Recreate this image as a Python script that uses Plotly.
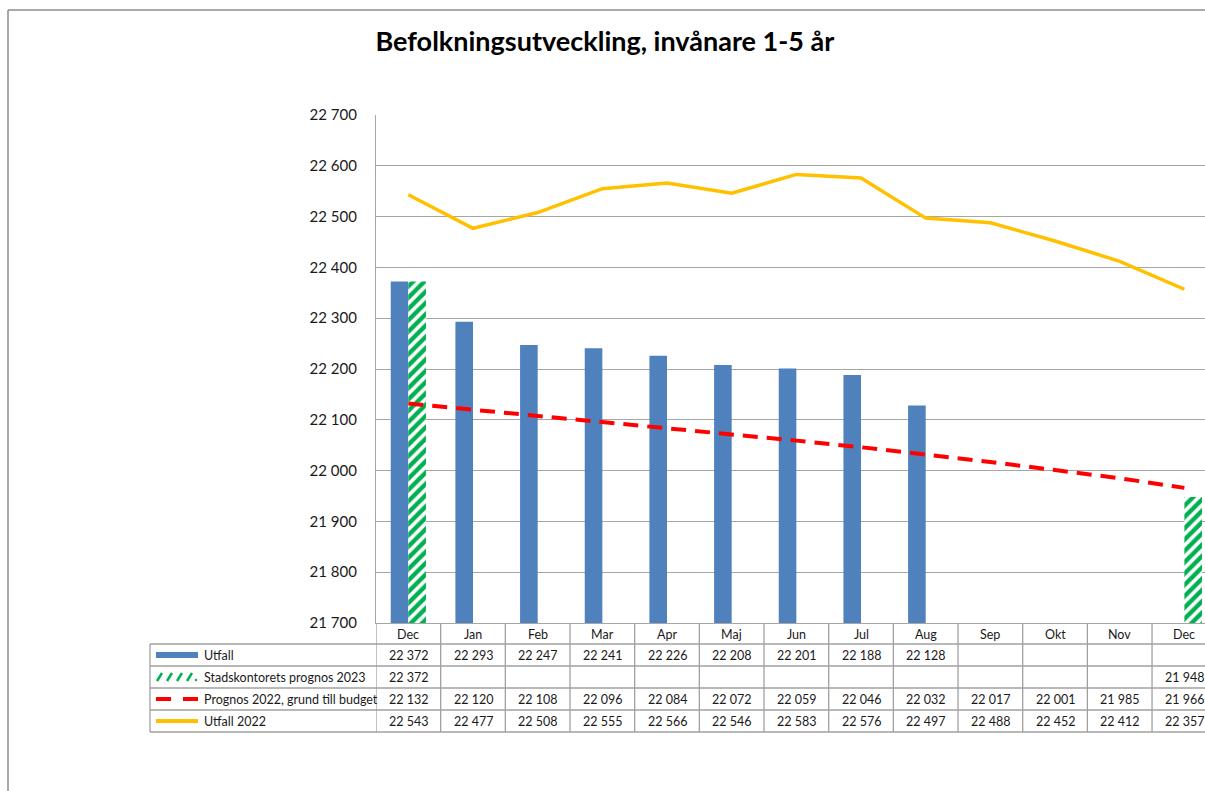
import plotly.graph_objects as go

categories = ["Dec", "Jan", "Feb", "Mar", "Apr", "Maj", "Jun", "Jul", "Aug", "Sep", "Okt", "Nov", "Dec"]
utfall = [22372, 22293, 22247, 22241, 22226, 22208, 22201, 22188, 22128, None, None, None, None]
stads_prognos_2023 = [22372, None, None, None, None, None, None, None, None, None, None, None, 21948]
prognos_2022 = [22132, 22120, 22108, 22096, 22084, 22072, 22059, 22046, 22032, 22017, 22001, 21985, 21966]
utfall_2022 = [22543, 22477, 22508, 22555, 22566, 22546, 22583, 22576, 22497, 22488, 22452, 22412, 22357]
series_names = ["Utfall", "Stadskontorets prognos 2023", "Prognos 2022, grund till budget", "Utfall 2022"]
y_ticks = [21700, 21800, 21900, 22000, 22100, 22200, 22300, 22400, 22500, 22600, 22700]

FONT = "Lato"
BLUE = "#4F81BD"
GREEN = "#00B050"
RED = "#FF0000"
YELLOW = "#FFC000"
GRID = "#A6A6A6"
TXT = "#1a1a1a"

W, H = 1205, 791
L, T, B = 376, 115, 168
PW = W - L
PH = H - T - B
AXIS_Y = T + PH  # 623


def px(X):
    return (X - L) / PW


def py(Y):
    return (AXIS_Y - Y) / PH


def fmt(v):
    return "" if v is None else f"{v:,}".replace(",", " ")


x = list(range(len(categories)))

fig = go.Figure()
fig.add_trace(go.Bar(x=x, y=utfall, name=series_names[0], marker=dict(color=BLUE, line=dict(width=0))))
fig.add_trace(go.Bar(x=x, y=stads_prognos_2023, name=series_names[1],
                     marker=dict(color="white", line=dict(width=0),
                                 pattern=dict(shape="/", fgcolor=GREEN, fgopacity=1, bgcolor="white",
                                              size=8, solidity=0.55))))
fig.add_trace(go.Scatter(x=x, y=prognos_2022, name=series_names[2], mode="lines",
                         line=dict(color=RED, width=4, dash="15px,9px")))
fig.add_trace(go.Scatter(x=x, y=utfall_2022, name=series_names[3], mode="lines",
                         line=dict(color=YELLOW, width=3.5)))

shapes = []
ann = []
line_style = dict(color="#A0A0A0", width=1.3)

# table horizontal lines
row_lines = [644, 666, 688, 710, 732]
for Y in row_lines:
    shapes.append(dict(type="line", xref="paper", yref="paper", x0=px(150), x1=1.0, y0=py(Y), y1=py(Y), line=line_style))
# left edge of legend column
shapes.append(dict(type="line", xref="paper", yref="paper", x0=px(150), x1=px(150), y0=py(644), y1=py(732), line=line_style))
# column separators
for k in range(len(categories)):
    shapes.append(dict(type="line", xref="x", yref="paper", x0=k - 0.5, x1=k - 0.5, y0=0, y1=py(732), line=line_style))

# outer chart border
shapes.append(dict(type="line", xref="paper", yref="paper", x0=px(8), x1=px(1300), y0=py(10), y1=py(10),
                   line=dict(color="#8C8C8C", width=1.5)))
shapes.append(dict(type="line", xref="paper", yref="paper", x0=px(8), x1=px(8), y0=py(10), y1=py(900),
                   line=dict(color="#8C8C8C", width=1.5)))

# legend keys
shapes.append(dict(type="rect", xref="paper", yref="paper", x0=px(156), x1=px(198), y0=py(652), y1=py(658),
                   fillcolor=BLUE, line=dict(width=0)))
for sx in [157, 167, 177, 187]:
    shapes.append(dict(type="line", xref="paper", yref="paper", x0=px(sx), x1=px(sx + 5), y0=py(681), y1=py(673),
                       line=dict(color=GREEN, width=2.5)))
shapes.append(dict(type="line", xref="paper", yref="paper", x0=px(195), x1=px(197), y0=py(680.5), y1=py(679.5),
                   line=dict(color=GREEN, width=2)))
shapes.append(dict(type="line", xref="paper", yref="paper", x0=px(156), x1=px(171), y0=py(699), y1=py(699),
                   line=dict(color=RED, width=4)))
shapes.append(dict(type="line", xref="paper", yref="paper", x0=px(183), x1=px(198), y0=py(699), y1=py(699),
                   line=dict(color=RED, width=4)))
shapes.append(dict(type="line", xref="paper", yref="paper", x0=px(156), x1=px(198), y0=py(721), y1=py(721),
                   line=dict(color=YELLOW, width=4)))

tfont = dict(family=FONT, size=12.5, color=TXT)
# header
for i, c in enumerate(categories):
    ann.append(dict(x=i, y=py(634), xref="x", yref="paper", text=c, showarrow=False, font=tfont,
                    xanchor="center", yanchor="middle"))
row_centers = [655, 677, 699, 721]
series_vals = [utfall, stads_prognos_2023, prognos_2022, utfall_2022]
for name, vals, Yc in zip(series_names, series_vals, row_centers):
    ann.append(dict(x=px(202), y=py(Yc), xref="paper", yref="paper", text=name, showarrow=False, font=tfont,
                    xanchor="left", yanchor="middle"))
    for i, v in enumerate(vals):
        if v is None:
            continue
        ann.append(dict(x=i, y=py(Yc), xref="x", yref="paper", text=fmt(v), showarrow=False, font=tfont,
                        xanchor="center", yanchor="middle"))

fig.update_layout(
    width=W, height=H,
    margin=dict(l=L, r=0, t=T, b=B, pad=0),
    paper_bgcolor="white", plot_bgcolor="white",
    barmode="group", bargap=0.456, bargroupgap=0,
    showlegend=False,
    separators=", ",
    title=dict(text="<b>Befolkningsutveckling, invånare 1-5 år</b>", x=0.502, xanchor="center",
               y=1 - 42 / H, yanchor="middle", yref="container",
               font=dict(family=FONT, size=27, color="#000")),
    xaxis=dict(range=[-0.5, -0.5 + PW / 64.67], showticklabels=False, showgrid=False, zeroline=False,
               showline=True, linecolor=GRID, linewidth=1.3, ticks=""),
    yaxis=dict(range=[21700, 22700], tickvals=y_ticks, tickformat=",d", showgrid=True, gridcolor=GRID,
               gridwidth=1.3, zeroline=False, showline=True, linecolor=GRID, linewidth=1.3, ticks="",
               ticklabelstandoff=15, tickfont=dict(family=FONT, size=15, color=TXT)),
    shapes=shapes,
    annotations=ann,
    hovermode=False,
)

fig.write_html("out.html", config={"displayModeBar": False},
               post_script="document.body.style.margin='0';document.body.style.overflow='hidden';")
